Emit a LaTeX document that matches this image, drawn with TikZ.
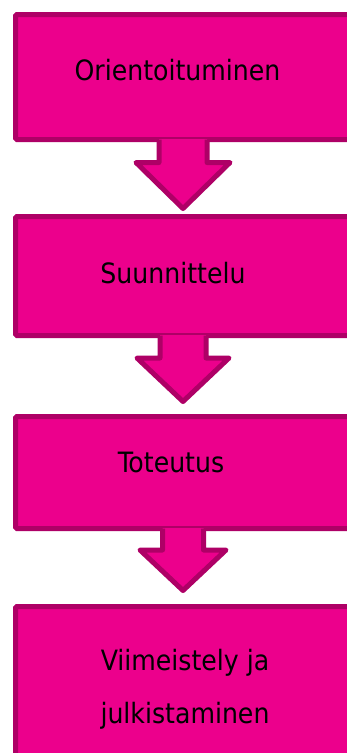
\documentclass[tikz,border=0pt]{standalone}
\usepackage{fontspec}
\setmainfont{DejaVu Sans Condensed}
\usetikzlibrary{calc}

\definecolor{stepfill}{RGB}{236,0,140}
\definecolor{stepline}{RGB}{174,0,102}

\tikzset{
  stepbox/.style={draw=stepline, fill=stepfill, line width=5pt,
    rounded corners=1.5pt, rectangle, inner sep=0pt,
    minimum width=335pt},
  steptext/.style={anchor=base, inner sep=0pt, font=\fontsize{28}{28}\selectfont},
  arrowfill/.style={fill=stepfill},
  arrowedge/.style={draw=stepline, line width=5pt, line join=round},
}

% block arrow hanging under a box: #1 box, #2 shaft half width,
% #3 head start, #4 head half width, #5 tip depth
\newcommand{\hangarrow}[5]{%
  \fill[arrowfill] ($(#1.south)+(-#2,-3)$) -- ($(#1.south)+(-#2,#3)$)
    -- ($(#1.south)+(-#4,#3)$) -- ($(#1.south)+(0,#5)$)
    -- ($(#1.south)+(#4,#3)$) -- ($(#1.south)+(#2,#3)$)
    -- ($(#1.south)+(#2,-3)$) -- cycle;
  \draw[arrowedge] ($(#1.south)+(-#2,-2.5)$) -- ($(#1.south)+(-#2,#3)$)
    -- ($(#1.south)+(-#4,#3)$) -- ($(#1.south)+(0,#5)$)
    -- ($(#1.south)+(#4,#3)$) -- ($(#1.south)+(#2,#3)$)
    -- ($(#1.south)+(#2,-2.5)$);%
}

\begin{document}
\begin{tikzpicture}[x=1pt, y=-1pt]
  \useasboundingbox (0,0) rectangle (347,753);
  \clip (0,0) rectangle (347,753);
  \fill[white] (0,0) rectangle (347,753);

  % the four stages
  \node[stepbox, minimum height=125pt] (b1) at (183,77) {};
  \node[stepbox, minimum height=119pt] (b2) at (183,276) {};
  \node[stepbox, minimum height=112pt] (b3) at (183,472.5) {};
  \node[stepbox, minimum height=161pt] (b4) at (183,687) {};

  % arrows between the stages
  \hangarrow{b1}{24}{20.5}{47}{66.5}
  \hangarrow{b2}{23}{20}{46}{63.5}
  \hangarrow{b3}{20.5}{19}{43}{59.5}

  % labels
  \node[steptext] (t1) at (177.5,80) {Orientoituminen};
  \node[steptext] (t2) at (173,283) {Suunnittelu};
  \node[steptext] (t3) at (171,472) {Toteutus};
  \node[steptext] (t4) at (185,670) {Viimeistely ja};
  \node[steptext] (t5) at (185,723) {julkistaminen};
\end{tikzpicture}
\end{document}
